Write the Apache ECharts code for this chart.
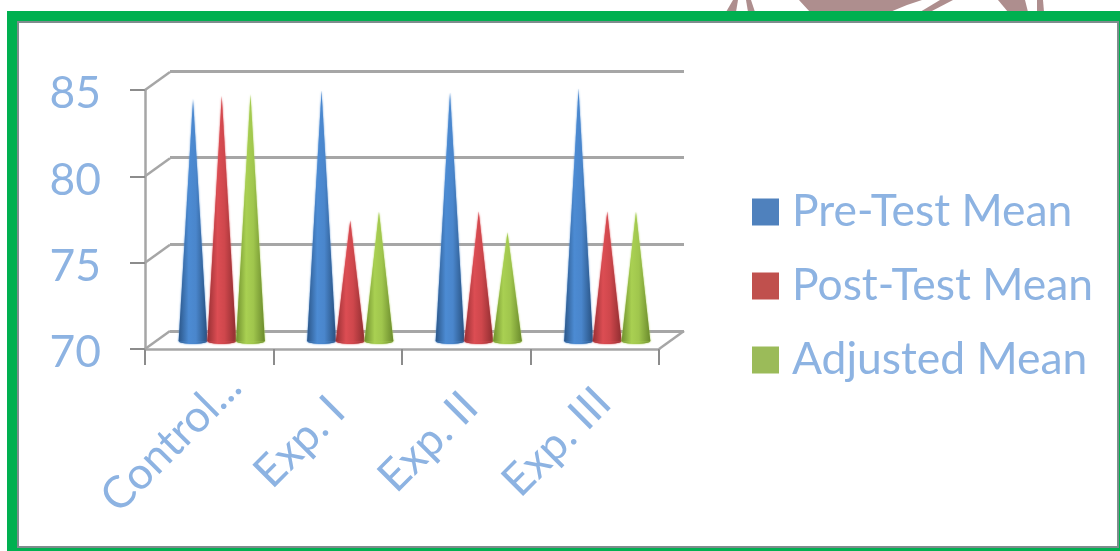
<!DOCTYPE html>
<html><head><meta charset="utf-8">
<style>html,body{margin:0;padding:0;background:#fff}#c{width:1120px;height:551px}</style>
<script src="https://cdn.jsdelivr.net/npm/echarts@6/dist/echarts.min.js"></script>
</head><body><div id="c"></div>
<script>
const categories = ['Control...', 'Exp. I', 'Exp. II', 'Exp. III'];
const preTest = [84.1, 84.6, 84.5, 84.7];
const postTest = [84.3, 77.1, 77.6, 77.6];
const adjusted = [84.4, 77.6, 76.4, 77.6];
const yTicks = [70, 75, 80, 85];
const seriesNames = ['Pre-Test Mean', 'Post-Test Mean', 'Adjusted Mean'];
const legendColors = ['#4f81bd', '#c0504d', '#9bbb59'];
const coneStops = [
  ['#2b5688', '#4c8bd3', '#4a86cc', '#27507f'],
  ['#983034', '#dc4d53', '#cf474c', '#8e2d30'],
  ['#6f8f2e', '#a9d052', '#a0c64d', '#6a8a2c']
];
const txt = '#8db3e2', gridCol = '#a6a6a6', font = 'Lato';

const chart = echarts.init(document.getElementById('c'), null, {renderer: 'canvas'});

function cone(si, values) {
  return {
    type: 'custom', name: seriesNames[si], xAxisIndex: 2, yAxisIndex: 2, z: 5,
    itemStyle: {color: legendColors[si]},
    data: values.map((v, i) => [i, v]),
    renderItem(params, api) {
      const band = api.size([1, 0])[0];
      const base = api.coord([api.value(0), 70]);
      const tip = api.coord([api.value(0), api.value(1)]);
      const cx = base[0] + (si - 1) * band * 0.2235;
      const hw = band * 0.112;
      const s = coneStops[si];
      const fill = new echarts.graphic.LinearGradient(0, 0, 1, 0, [
        {offset: 0, color: s[0]}, {offset: 0.35, color: s[1]},
        {offset: 0.6, color: s[2]}, {offset: 1, color: s[3]}
      ]);
      const soft = {shadowBlur: 2, shadowColor: s[1]};
      return {type: 'group', children: [
        {type: 'ellipse', shape: {cx: cx, cy: base[1] - 2, rx: hw, ry: 3}, style: Object.assign({fill: fill}, soft)},
        {type: 'polygon', shape: {points: [[cx, tip[1]], [cx + hw, base[1] - 2], [cx - hw, base[1] - 2]]}, style: Object.assign({fill: fill}, soft)}
      ]};
    }
  };
}

function diag(x, y) {
  return {type: 'line', shape: {x1: x, y1: y, x2: x + 25, y2: y - 18},
    style: {stroke: gridCol, lineWidth: 2.5}};
}

const wallDiagonals = {
  type: 'custom', xAxisIndex: 0, yAxisIndex: 0, silent: true, z: 2,
  data: yTicks.map(v => [0, v]),
  renderItem(params, api) {
    const p = api.coord([0, api.value(1)]);
    return diag(p[0] - api.size([1, 0])[0] / 2, p[1]);
  }
};
const floorDiagonal = {
  type: 'custom', xAxisIndex: 0, yAxisIndex: 0, silent: true, z: 2,
  data: [[categories.length - 1, yTicks[0]]],
  renderItem(params, api) {
    const p = api.coord([api.value(0), api.value(1)]);
    return diag(p[0] + api.size([1, 0])[0] / 2, p[1]);
  }
};

const emblem = '#ae8e8e';
chart.setOption({
  animation: false,
  backgroundColor: '#fff',
  graphic: [
    {type: 'polygon', silent: true, z: -5, shape: {points: [[733,0],[738,0],[736,12],[726,12]]}, style: {fill: emblem}},
    {type: 'polygon', silent: true, z: -5, shape: {points: [[746,0],[751,0],[755,12],[748,12]]}, style: {fill: emblem}},
    {type: 'polygon', silent: true, z: -5, shape: {points: [[799,0],[922,0],[907,5],[890,12],[810,12]]}, style: {fill: emblem}},
    {type: 'polygon', silent: true, z: -5, shape: {points: [[940,0],[953,0],[930,12],[920,12]]}, style: {fill: emblem}},
    {type: 'polygon', silent: true, z: -5, shape: {points: [[998,0],[1025,0],[1028,12],[1008,12]]}, style: {fill: emblem}},
    {type: 'polygon', silent: true, z: -5, shape: {points: [[1037,0],[1043,0],[1044,12],[1037,12]]}, style: {fill: emblem}},
    {type: 'rect', silent: true, z: -4, shape: {x: 7, y: 11, width: 1120, height: 600}, style: {fill: '#00b050'}},
    {type: 'rect', silent: true, z: -3, shape: {x: 18, y: 22, width: 1100, height: 525}, style: {fill: '#fff', stroke: '#7f8c8d', lineWidth: 2}}
  ],
  legend: {
    data: seriesNames, orient: 'vertical', left: 752, top: 186, padding: 0, selectedMode: false,
    icon: 'rect', itemWidth: 27, itemHeight: 27, itemGap: 22,
    textStyle: {color: txt, fontFamily: font, fontSize: 44.4, padding: [0, 0, 0, 8], lineHeight: 52}
  },
  tooltip: {show: false},
  grid: [
    {left: 145, top: 90, width: 514, height: 259},
    {left: 170, top: 71, width: 514, height: 260},
    {left: 157.5, top: 83.5, width: 514, height: 259.5},
    {left: 107, top: 90, width: 514, height: 259},
    {left: 145, top: 94, width: 514, height: 259}
  ],
  xAxis: [
    {type: 'category', gridIndex: 0, data: categories, boundaryGap: true,
      axisLine: {lineStyle: {color: gridCol, width: 2.5}},
      axisTick: {show: true, length: 16, lineStyle: {color: '#8c8c8c', width: 2}},
      axisLabel: {show: false}},
    {type: 'category', gridIndex: 1, data: categories, show: false},
    {type: 'category', gridIndex: 2, data: categories, show: false},
    {type: 'category', gridIndex: 3, data: categories,
      axisLine: {show: false}, axisTick: {show: false},
      axisLabel: {show: true, interval: 0, rotate: 45, align: 'center', verticalAlign: 'middle',
        margin: 93, color: txt, fontFamily: font, fontSize: 44.4}},
    {type: 'category', gridIndex: 4, data: categories, show: false}
  ],
  yAxis: [
    {type: 'value', gridIndex: 0, min: 70, max: 85, interval: 5,
      axisLine: {show: true, lineStyle: {color: gridCol, width: 2.5}},
      axisTick: {show: true, length: 15, lineStyle: {color: '#8c8c8c', width: 2}},
      splitLine: {show: false},
      axisLabel: {show: false}},
    {type: 'value', gridIndex: 1, min: 70, max: 85, interval: 5,
      axisLine: {show: false}, axisTick: {show: false}, axisLabel: {show: false},
      splitLine: {show: true, lineStyle: {color: gridCol, width: 3}}},
    {type: 'value', gridIndex: 2, min: 70, max: 85, show: false, splitLine: {show: false}},
    {type: 'value', gridIndex: 3, min: 70, max: 85, show: false, splitLine: {show: false}},
    {type: 'value', gridIndex: 4, min: 70, max: 85, interval: 5,
      axisLine: {show: false}, axisTick: {show: false}, splitLine: {show: false},
      axisLabel: {margin: 44, color: txt, fontFamily: font, fontSize: 44.4}}
  ],
  series: [
    wallDiagonals, floorDiagonal,
    cone(0, preTest), cone(1, postTest), cone(2, adjusted)
  ]
});
</script></body></html>
